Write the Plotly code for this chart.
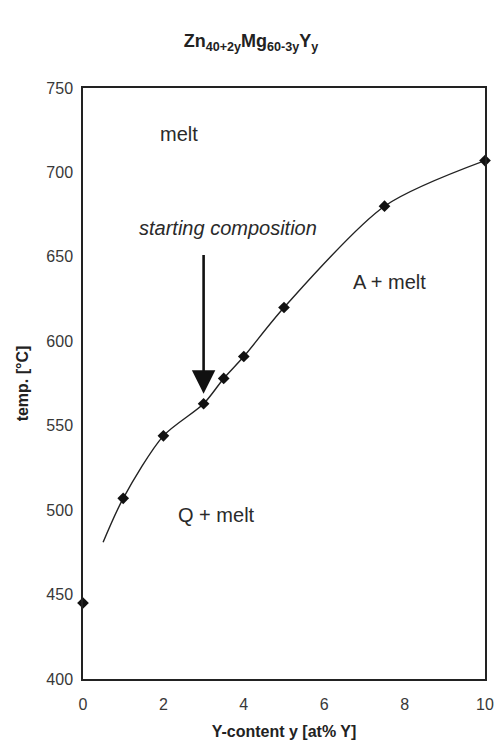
import plotly.graph_objects as go

# Measured liquidus points
y_content = [0, 1, 2, 3, 3.5, 4, 5, 7.5, 10]
temp_c = [445, 507, 544, 563, 578, 591, 620, 680, 707]

# Smoothed liquidus curve
curve_x = [0.5, 1, 2, 3, 3.5, 4, 5, 7.5, 10]
curve_y = [481, 507, 544, 563, 578, 591, 620, 680, 707]

x_ticks = [0, 2, 4, 6, 8, 10]
y_ticks = [400, 450, 500, 550, 600, 650, 700, 750]

FONT = "Liberation Sans, Arial, sans-serif"

fig = go.Figure()
fig.add_trace(go.Scatter(x=curve_x, y=curve_y, mode="lines",
                         line=dict(color="#222222", width=1.4, shape="spline", smoothing=0.8),
                         hoverinfo="skip", showlegend=False))
fig.add_trace(go.Scatter(x=y_content, y=temp_c, mode="markers",
                         marker=dict(symbol="diamond", size=9, color="#111111"),
                         cliponaxis=False, showlegend=False))

labels = [
    (2.39, 723, "melt", False, 20),
    (7.63, 635, "A + melt", False, 20),
    (3.33, 497, "Q + melt", False, 20),
    (3.6, 667, "starting composition", True, 20),
]
for lx, ly, txt, it, fs in labels:
    fig.add_annotation(x=lx, y=ly, text=f"<i>{txt}</i>" if it else txt, showarrow=False,
                       font=dict(family=FONT, size=fs, color="#2a2a2a"))

fig.add_annotation(x=3.0, y=569, ax=3.0, ay=652, xref="x", yref="y", axref="x", ayref="y",
                   text="", showarrow=True, arrowhead=2, arrowsize=1.8, arrowwidth=2.6,
                   arrowcolor="#111111")

fig.update_layout(
    width=502, height=747,
    margin=dict(l=83, r=8, t=88, b=68),
    paper_bgcolor="white", plot_bgcolor="white",
    title=dict(text="<b>Zn<sub>40+2y</sub>Mg<sub>60-3y</sub>Y<sub>y</sub></b>",
               x=0.5, xanchor="center", y=0.945, yanchor="middle",
               font=dict(family=FONT, size=18, color="#222222")),
    font=dict(family=FONT, size=16, color="#333333"),
)
fig.update_xaxes(range=[0, 10], tickvals=x_ticks, showgrid=False, zeroline=False,
                 showline=True, linecolor="#222222", linewidth=1.5, mirror=True,
                 ticks="", ticklabelstandoff=10, tickfont=dict(size=16, color="#383838"),
                 title=dict(text="<b>Y-content y [at% Y]</b>", standoff=14,
                            font=dict(size=16, color="#222222")))
fig.update_yaxes(range=[400, 750], tickvals=y_ticks, showgrid=False, zeroline=False,
                 showline=True, linecolor="#222222", linewidth=1.5, mirror=True,
                 ticks="", ticklabelstandoff=5, tickfont=dict(size=16, color="#383838"),
                 title=dict(text="<b>temp. [°C]</b>", standoff=14,
                            font=dict(size=16, color="#222222")))

fig.write_html("out.html")
